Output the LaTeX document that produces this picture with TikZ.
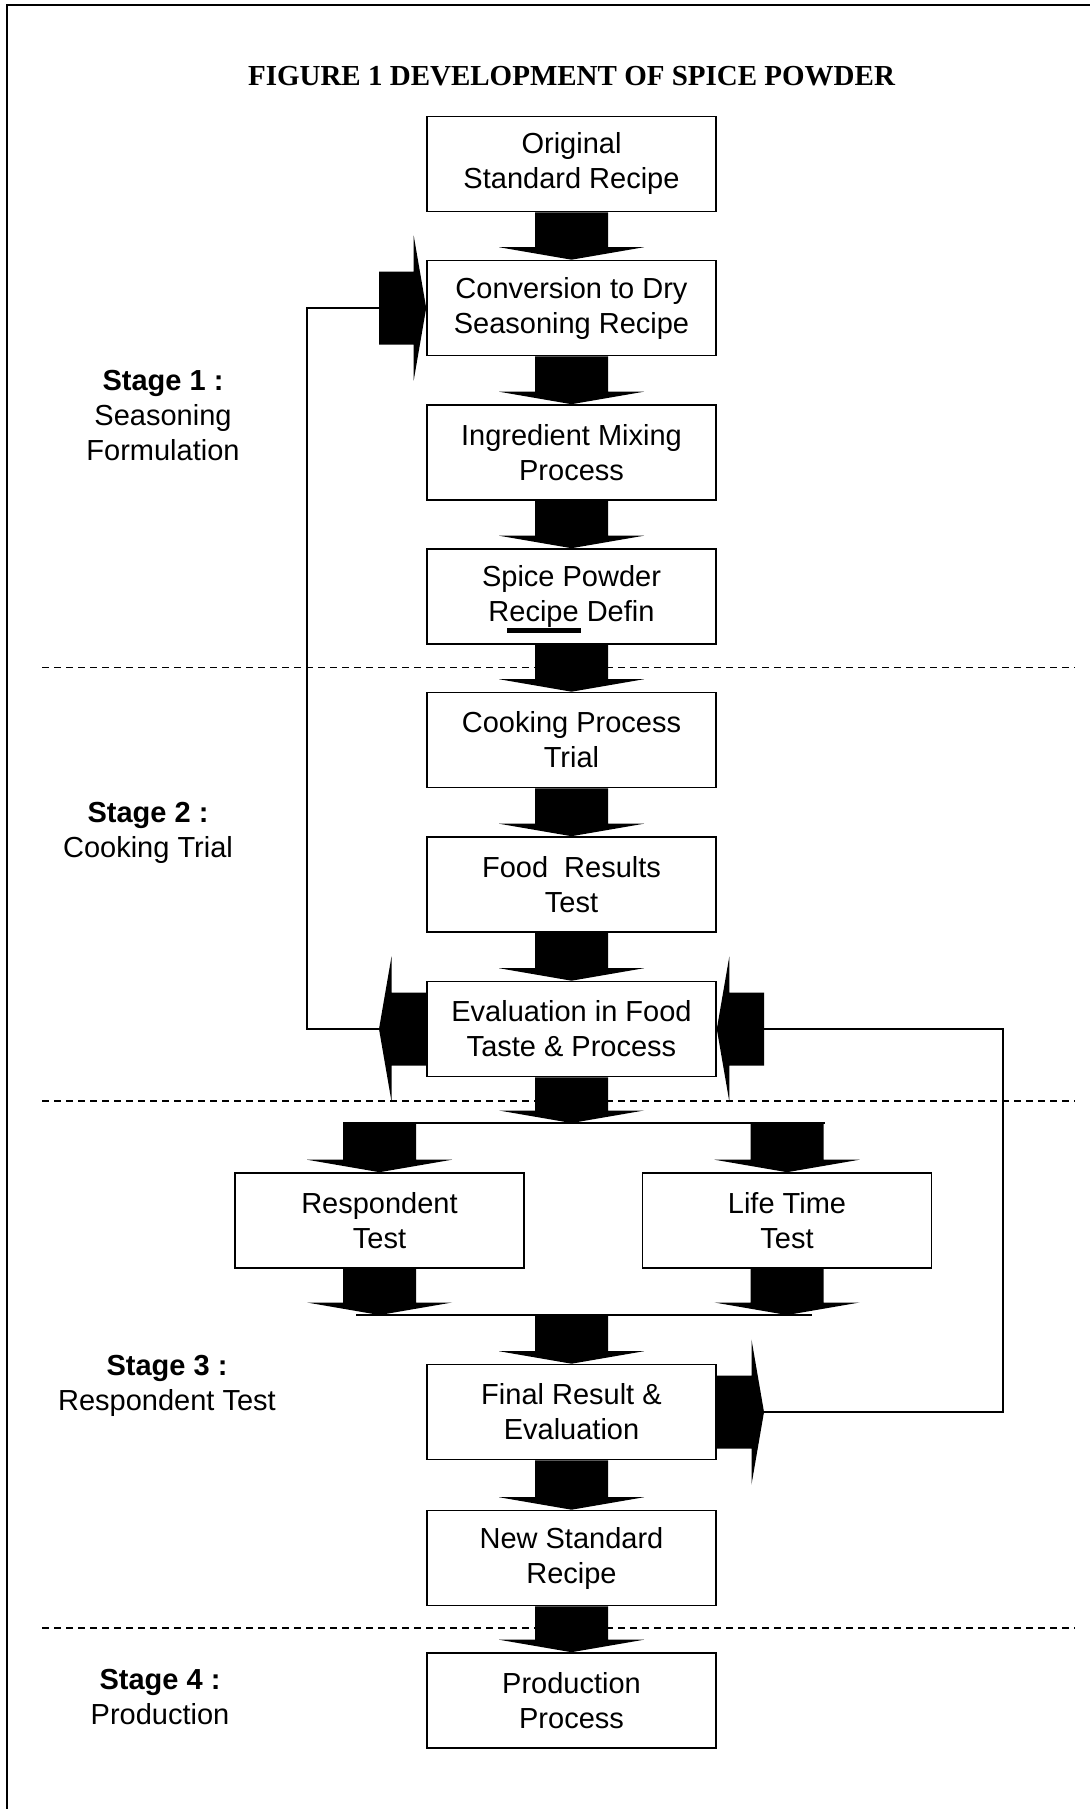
\documentclass[tikz,border=0pt]{standalone}
\usepackage{fontspec}
\setmainfont{Liberation Sans}
\newfontfamily\titlefont{Liberation Serif}
\usetikzlibrary{calc}
\tikzset{
  box/.style={draw, line width=1.6pt, minimum width=289pt, minimum height=95pt,
    align=center, inner sep=0pt, font=\fontsize{29}{35}\selectfont},
  stagelbl/.style={align=center, inner sep=0pt, font=\fontsize{29}{35}\selectfont},
  thinline/.style={line width=1.5pt},
  sepline/.style={line width=1.5pt, dash pattern=on 7pt off 5pt},
  framestyle/.style={line width=2pt},
}
% block arrow pointing down: tail point #1, tip point #2
\newcommand\arrdown[2]{\fill let \p1=(#1), \p2=(#2) in
  (\x1-36.5pt,\y1) -- (\x1-36.5pt,\y2+12.5pt) -- (\x1-72.5pt,\y2+12.5pt) -- (\x1,\y2)
  -- (\x1+72.5pt,\y2+12.5pt) -- (\x1+36.5pt,\y2+12.5pt) -- (\x1+36.5pt,\y1) -- cycle;}
% block arrow pointing right
\newcommand\arrright[2]{\fill let \p1=(#1), \p2=(#2) in
  (\x1,\y1+36.5pt) -- (\x2-12.5pt,\y1+36.5pt) -- (\x2-12.5pt,\y1+72.5pt) -- (\x2,\y1)
  -- (\x2-12.5pt,\y1-72.5pt) -- (\x2-12.5pt,\y1-36.5pt) -- (\x1,\y1-36.5pt) -- cycle;}
% block arrow pointing left
\newcommand\arrleft[2]{\fill let \p1=(#1), \p2=(#2) in
  (\x1,\y1+36.5pt) -- (\x2+12.5pt,\y1+36.5pt) -- (\x2+12.5pt,\y1+72.5pt) -- (\x2,\y1)
  -- (\x2+12.5pt,\y1-72.5pt) -- (\x2+12.5pt,\y1-36.5pt) -- (\x1,\y1-36.5pt) -- cycle;}
\begin{document}
\begin{tikzpicture}[x=1pt,y=-1pt]
\useasboundingbox (0,0) rectangle (1090,1809);
\fill[white] (0,0) rectangle (1090,1809);
% frame (left and top only)
\draw[framestyle] (7,1809) -- (7,5) -- (1090,5);

% title
\node[font=\titlefont\bfseries\fontsize{29}{35}\selectfont] (title) at (571.5,76)
  {FIGURE 1 DEVELOPMENT OF SPICE POWDER};

% stage separators
\draw[sepline] (42,667.5) -- (1075,667.5);
\draw[sepline] (42,1101) -- (1075,1101);
\draw[sepline] (42,1628) -- (1075,1628);

% boxes
\node[box] (b1) at (571.5,164) {Original\\Standard Recipe};
\node[box] (b2) at (571.5,308) {Conversion to Dry\\Seasoning Recipe};
\node[box] (b3) at (571.5,452.5) {Ingredient Mixing\\Process};
\node[box] (b4) at (571.5,596.5) {Spice Powder\\Recipe Defin};
\node[box] (b5) at (571.5,740) {Cooking Process\\Trial};
\node[box] (b6) at (571.5,884.5) {Food\ \ Results\\Test};
\node[box] (b7) at (571.5,1029) {Evaluation in Food\\Taste \& Process};
\node[box] (resp) at (379.5,1220.5) {Respondent\\Test};
\node[box] (life) at (787,1220.5) {Life Time\\Test};
\node[box] (b10) at (571.5,1412) {Final Result \&\\Evaluation};
\node[box] (b11) at (571.5,1558) {New Standard\\Recipe};
\node[box] (b12) at (571.5,1700.5) {Production\\Process};

% underline mark under "Recipe"
\fill (507,628) rectangle (581,633);

% stage labels
\node[stagelbl] (st1) at (163,416) {\textbf{Stage 1 :}\\Seasoning\\Formulation};
\node[stagelbl] (st2) at (148,833) {\textbf{Stage 2 :}\\Cooking Trial};
\node[stagelbl] (st3) at (167,1386) {\textbf{Stage 3 :}\\Respondent Test};
\node[stagelbl] (st4) at (160,1697) {\textbf{Stage 4 :}\\Production};

% helper coordinates
\coordinate (split) at (571.5,1123);
\coordinate (splitL) at (379.5,1123);
\coordinate (splitR) at (787,1123);
\coordinate (merge) at (571.5,1315);
\coordinate (mergeL) at (379.5,1315);
\coordinate (mergeR) at (787,1315);
\coordinate (convtail) at (379,308);
\coordinate (evtipL) at (379,1029);
\coordinate (evtailR) at (764,1029);
\coordinate (frtip) at (764,1412);
\coordinate (loopL) at (307,0);
\coordinate (loopR) at (1003,0);

% split and merge lines
\draw[thinline] (343,1123) -- (825,1123);
\draw[thinline] (356,1315) -- (812,1315);

% feedback lines
\draw[thinline] (evtipL) -- (evtipL -| loopL) -- (convtail -| loopL) -- (convtail);
\draw[thinline] (frtip) -- (frtip -| loopR) -- (evtailR -| loopR) -- (evtailR);

% block arrows
\arrdown{b1.south}{b2.north}
\arrdown{b2.south}{b3.north}
\arrdown{b3.south}{b4.north}
\arrdown{b4.south}{b5.north}
\arrdown{b5.south}{b6.north}
\arrdown{b6.south}{b7.north}
\arrdown{b7.south}{split}
\arrdown{splitL}{resp.north}
\arrdown{splitR}{life.north}
\arrdown{resp.south}{mergeL}
\arrdown{life.south}{mergeR}
\arrdown{merge}{b10.north}
\arrdown{b10.south}{b11.north}
\arrdown{b11.south}{b12.north}
\arrright{convtail}{b2.west}
\arrleft{b7.west}{evtipL}
\arrleft{evtailR}{b7.east}
\arrright{b10.east}{frtip}
\end{tikzpicture}
\end{document}
